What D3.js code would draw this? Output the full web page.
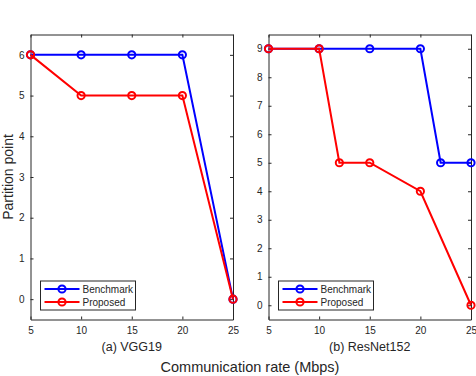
<!DOCTYPE html>
<html><head><meta charset="utf-8">
<script src="https://cdn.jsdelivr.net/npm/d3@7"></script>
<style>body{margin:0;background:#fff}svg{display:block}</style>
</head><body>
<svg id="c" width="476" height="376"></svg>
<script>
const xTicks = [5, 10, 15, 20, 25];
const vggX = [5, 10, 15, 20, 25];
const vggBenchmark = [6, 6, 6, 6, 0];
const vggProposed = [6, 5, 5, 5, 0];
const vggYTicks = [0, 1, 2, 3, 4, 5, 6];
const resBenchX = [5, 10, 15, 20, 22, 25];
const resBenchmark = [9, 9, 9, 9, 5, 5];
const resPropX = [5, 10, 12, 15, 20, 25];
const resProposed = [9, 9, 5, 5, 4, 0];
const resYTicks = [0, 1, 2, 3, 4, 5, 6, 7, 8, 9];
const seriesNames = ["Benchmark", "Proposed"];
const seriesColors = ["#0000ff", "#ff0000"];

const svg = d3.select("#c");
const font = "'Liberation Sans', Arial, sans-serif";
const axisColor = "#262626";

function panel(opts) {
  const g = svg.append("g");
  const x = d3.scaleLinear().domain([5, 25]).range([opts.x0, opts.x1]);
  const y = d3.scaleLinear().domain(opts.yDomain).range([opts.y1, opts.y0]);
  const tl = 3;
  const ax = g.append("g").attr("transform", `translate(0,${opts.y1})`)
    .call(d3.axisBottom(x).tickValues(xTicks).tickFormat(d3.format("d")).tickSizeInner(-tl).tickSizeOuter(0).tickPadding(7));
  const axT = g.append("g").attr("transform", `translate(0,${opts.y0})`)
    .call(d3.axisTop(x).tickValues(xTicks).tickSizeInner(-tl).tickSizeOuter(0).tickFormat(""));
  const ay = g.append("g").attr("transform", `translate(${opts.x0},0)`)
    .call(d3.axisLeft(y).tickValues(opts.yTicks).tickFormat(d3.format("d")).tickSizeInner(-tl).tickSizeOuter(0).tickPadding(6));
  const ayR = g.append("g").attr("transform", `translate(${opts.x1},0)`)
    .call(d3.axisRight(y).tickValues(opts.yTicks).tickSizeInner(-tl).tickSizeOuter(0).tickFormat(""));
  [ax, axT, ay, ayR].forEach(a => {
    a.selectAll("path").attr("stroke", axisColor).attr("stroke-width", 1);
    a.selectAll("line").attr("stroke", axisColor).attr("stroke-width", 1);
    a.selectAll("text").attr("fill", axisColor).style("font-family", font).style("font-size", "10px");
  });
  const line = d3.line().x(d => x(d[0])).y(d => y(d[1]));
  opts.series.forEach((s, i) => {
    const pts = s.xs.map((v, j) => [v, s.ys[j]]);
    g.append("path").datum(pts).attr("d", line).attr("fill", "none")
      .attr("stroke", seriesColors[i]).attr("stroke-width", 2);
    g.selectAll(null).data(pts).enter().append("circle")
      .attr("cx", d => x(d[0])).attr("cy", d => y(d[1])).attr("r", 3.6)
      .attr("fill", "none").attr("stroke", seriesColors[i]).attr("stroke-width", 2);
  });
  const lx = opts.x0 + 10, ly = 281, lw = 95, lh = 29;
  const lg = g.append("g");
  lg.append("rect").attr("x", lx).attr("y", ly).attr("width", lw).attr("height", lh)
    .attr("fill", "#fff").attr("stroke", axisColor).attr("stroke-width", 1);
  seriesNames.forEach((n, i) => {
    const yy = ly + 8 + i * 13;
    lg.append("line").attr("x1", lx + 4).attr("x2", lx + 39).attr("y1", yy).attr("y2", yy)
      .attr("stroke", seriesColors[i]).attr("stroke-width", 2);
    lg.append("circle").attr("cx", lx + 21.5).attr("cy", yy).attr("r", 3.6)
      .attr("fill", "none").attr("stroke", seriesColors[i]).attr("stroke-width", 2);
    lg.append("text").attr("x", lx + 42).attr("y", yy + 3.5).text(n)
      .attr("fill", axisColor).style("font-family", font).style("font-size", "10px");
  });
  g.append("text").attr("x", (opts.x0 + opts.x1) / 2).attr("y", 351).attr("text-anchor", "middle")
    .text(opts.caption).attr("fill", axisColor).style("font-family", font).style("font-size", "12.5px");
}

panel({x0: 30.5, x1: 233, y0: 34.5, y1: 319.5, yDomain: [-0.5, 6.5], yTicks: vggYTicks,
  caption: "(a) VGG19",
  series: [{xs: vggX, ys: vggBenchmark}, {xs: vggX, ys: vggProposed}]});
panel({x0: 268.5, x1: 471, y0: 34.5, y1: 319.5, yDomain: [-0.5, 9.5], yTicks: resYTicks,
  caption: "(b) ResNet152",
  series: [{xs: resBenchX, ys: resBenchmark}, {xs: resPropX, ys: resProposed}]});

svg.append("text").attr("transform", "translate(13,177) rotate(-90)").attr("text-anchor", "middle")
  .text("Partition point").attr("fill", axisColor).style("font-family", font).style("font-size", "14px");
svg.append("text").attr("x", 250).attr("y", 372).attr("text-anchor", "middle")
  .text("Communication rate (Mbps)").attr("fill", axisColor).style("font-family", font).style("font-size", "14.5px");
</script>
</body></html>
